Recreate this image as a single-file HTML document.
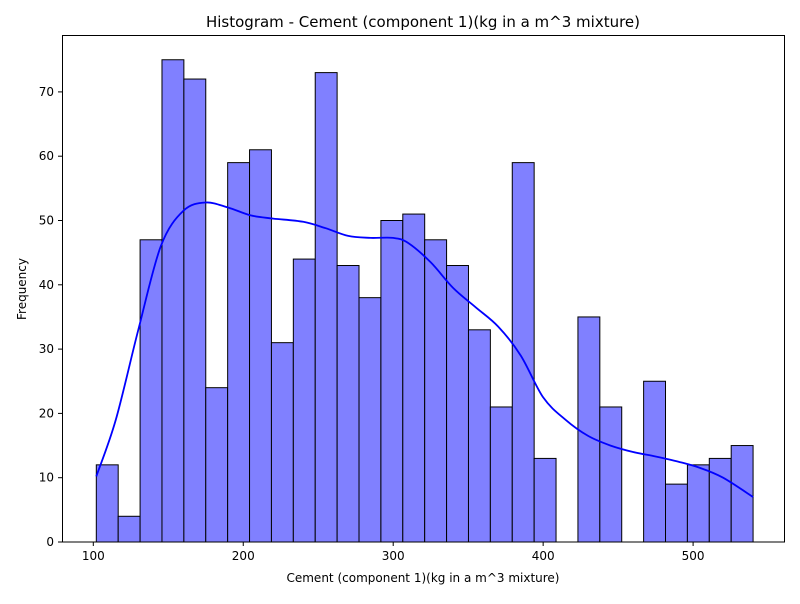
<!DOCTYPE html>
<html><head><meta charset="utf-8"><style>
body{margin:0;background:#fff;font-family:"DejaVu Sans","Liberation Sans",sans-serif}
</style></head><body>
<svg id="c" width="800" height="600" xmlns="http://www.w3.org/2000/svg">
<rect width="800" height="600" fill="#fff"/>
<text x="423" y="27" text-anchor="middle" font-size="15">Histogram - Cement (component 1)(kg in a m^3 mixture)</text>
<text x="423" y="582" text-anchor="middle" font-size="12">Cement (component 1)(kg in a m^3 mixture)</text>
<text x="26" y="289" text-anchor="middle" font-size="12" transform="rotate(-90 26 289)">Frequency</text>
<g id="bars"></g><g id="ticks"></g>
<path id="kde" fill="none" stroke="#0000ff" stroke-width="1.8"/>
<rect x="62.5" y="35.5" width="722" height="506.5" fill="none" stroke="#000" stroke-width="1"/>
</svg>
<script>
const binStart = 102, binEnd = 540;
const counts = [12,4,47,75,72,24,59,61,31,44,73,43,38,50,51,47,43,33,21,59,13,0,35,21,0,25,9,12,13,15];
const kdeX = [102,115,130,145,160,175,190,205,220,240,255,270,285,300,310,325,340,355,370,385,400,415,430,445,460,475,490,505,520,540];
const kdeY = [10.2,19,33,46,51.5,52.8,52,50.8,50.3,49.8,48.8,47.6,47.3,47.3,46.5,43.5,39.5,36.5,33.5,29,22.5,19,16.5,15,14,13.3,12.5,11.5,10,7];
const xTicks = [100,200,300,400,500];
const yTicks = [0,10,20,30,40,50,60,70];
const X = v => 93.3 + (v - 100) * 1.4995;
const Y = v => 542 - v * 6.43;
const ns = "http://www.w3.org/2000/svg";
const bw = (binEnd - binStart) / counts.length;
const bars = document.getElementById('bars');
counts.forEach((c, i) => {
  if (!c) return;
  const r = document.createElementNS(ns, 'rect');
  const x0 = X(binStart + i * bw), x1 = X(binStart + (i + 1) * bw);
  r.setAttribute('x', x0); r.setAttribute('y', Y(c));
  r.setAttribute('width', x1 - x0); r.setAttribute('height', Y(0) - Y(c));
  r.setAttribute('fill', '#8080ff'); r.setAttribute('stroke', '#000'); r.setAttribute('stroke-width', '1');
  
  
  bars.appendChild(r);
});
const t = document.getElementById('ticks');
xTicks.forEach(v => {
  const l = document.createElementNS(ns, 'line');
  l.setAttribute('x1', X(v)); l.setAttribute('x2', X(v)); l.setAttribute('y1', 542); l.setAttribute('y2', 546); l.setAttribute('stroke', '#000');
  
  
  t.appendChild(l);
  const s = document.createElementNS(ns, 'text');
  s.setAttribute('x', X(v)); s.setAttribute('y', 560); s.setAttribute('text-anchor', 'middle'); s.setAttribute('font-size', '12');
  s.textContent = v;
  
  
  t.appendChild(s);
});
yTicks.forEach(v => {
  const l = document.createElementNS(ns, 'line');
  l.setAttribute('x1', 58); l.setAttribute('x2', 62.5); l.setAttribute('y1', Y(v)); l.setAttribute('y2', Y(v)); l.setAttribute('stroke', '#000');
  
  
  t.appendChild(l);
  const s = document.createElementNS(ns, 'text');
  s.setAttribute('x', 54); s.setAttribute('y', Y(v) + 4); s.setAttribute('text-anchor', 'end'); s.setAttribute('font-size', '12');
  s.textContent = v;
  
  
  t.appendChild(s);
});
// smooth Catmull-Rom path through KDE points
const pts = kdeX.map((v, i) => [X(v), Y(kdeY[i])]);
let d = 'M' + pts[0][0].toFixed(1) + ' ' + pts[0][1].toFixed(1);
for (let i = 0; i < pts.length - 1; i++) {
  const p0 = pts[i - 1] || pts[i], p1 = pts[i], p2 = pts[i + 1], p3 = pts[i + 2] || p2;
  const c1 = [p1[0] + (p2[0] - p0[0]) / 6, p1[1] + (p2[1] - p0[1]) / 6];
  const c2 = [p2[0] - (p3[0] - p1[0]) / 6, p2[1] - (p3[1] - p1[1]) / 6];
  d += ' C' + c1.map(n => n.toFixed(1)).join(' ') + ' ' + c2.map(n => n.toFixed(1)).join(' ') + ' ' + p2.map(n => n.toFixed(1)).join(' ');
}
document.getElementById('kde').setAttribute('d', d);
</script>
</body></html>
